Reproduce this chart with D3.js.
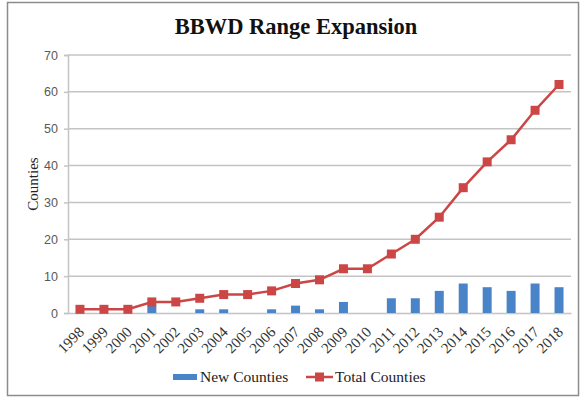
<!DOCTYPE html>
<html>
<head>
<meta charset="utf-8">
<script src="https://cdn.jsdelivr.net/npm/d3@7"></script>
<style>
  html, body { margin: 0; padding: 0; background: #fff; }
  svg { display: block; }
</style>
</head>
<body>
<svg id="chart" width="581" height="398"></svg>
<script>
// Blue-billed whistling duck range expansion by year
const years = ["1998","1999","2000","2001","2002","2003","2004","2005","2006","2007","2008",
               "2009","2010","2011","2012","2013","2014","2015","2016","2017","2018"];
const newCounties   = [0, 0, 0, 2, 0, 1, 1, 0, 1, 2, 1, 3, 0, 4, 4, 6, 8, 7, 6, 8, 7];
const totalCounties = [1, 1, 1, 3, 3, 4, 5, 5, 6, 8, 9, 12, 12, 16, 20, 26, 34, 41, 47, 55, 62];
const yTicks = [0, 10, 20, 30, 40, 50, 60, 70];

const barColor = "#4a84c8";
const lineColor = "#cc4646";
const gridColor = "#c4c4c4";
const serif = "Liberation Serif, Times New Roman, serif";

const svg = d3.select("#chart");
const margin = { left: 68, right: 571, top: 55, bottom: 313 };

// outer frame
svg.append("rect")
  .attr("x", 7.5).attr("y", 2.5).attr("width", 571).attr("height", 393)
  .attr("fill", "#fff").attr("stroke", "#8c8c8c").attr("stroke-width", 1.5);

const x = d3.scaleBand().domain(years).range([margin.left, margin.right]);
const y = d3.scaleLinear().domain([0, 70]).range([margin.bottom, margin.top]);
const cx = d => x(d) + x.bandwidth() / 2;

// horizontal gridlines
svg.append("g").selectAll("line").data(yTicks.filter(d => d > 0)).join("line")
  .attr("x1", margin.left).attr("x2", margin.right)
  .attr("y1", d => y(d)).attr("y2", d => y(d))
  .attr("stroke", gridColor).attr("stroke-width", 1.5);

// y axis
const yAxis = svg.append("g")
  .attr("transform", `translate(${margin.left},0)`)
  .call(d3.axisLeft(y).tickValues(yTicks).tickSize(4).tickPadding(6));
yAxis.select(".domain").attr("stroke", gridColor).attr("stroke-width", 1.5);
yAxis.selectAll(".tick line").attr("stroke", gridColor).attr("stroke-width", 1.5);
yAxis.selectAll(".tick text")
  .attr("font-family", "Liberation Sans, Arial, sans-serif")
  .attr("font-size", 12.5).attr("fill", "#595959");

// x axis (labels rotated 45°, ending just right of each category centre)
const xAxis = svg.append("g")
  .attr("transform", `translate(0,${margin.bottom})`)
  .call(d3.axisBottom(x).tickSize(0));
xAxis.select(".domain").attr("stroke", gridColor).attr("stroke-width", 1.5);
xAxis.selectAll(".tick text")
  .attr("font-family", serif)
  .attr("font-size", 15).attr("fill", "#333")
  .attr("text-anchor", "end")
  .attr("x", null).attr("y", null).attr("dy", null)
  .attr("transform", "translate(5,20) rotate(-45)");

// bars: new counties
const bw = 9;
svg.append("g").selectAll("rect").data(years.map((yr, i) => ({ yr, v: newCounties[i] })))
  .join("rect")
  .attr("x", d => cx(d.yr) - bw / 2)
  .attr("y", d => y(d.v))
  .attr("width", bw)
  .attr("height", d => y(0) - y(d.v))
  .attr("fill", barColor);

// line: total counties
const pts = years.map((yr, i) => ({ yr, v: totalCounties[i] }));
svg.append("path").datum(pts)
  .attr("fill", "none").attr("stroke", lineColor).attr("stroke-width", 2.5)
  .attr("d", d3.line().x(d => cx(d.yr)).y(d => y(d.v)));
const ms = 9;
svg.append("g").selectAll("rect").data(pts).join("rect")
  .attr("x", d => cx(d.yr) - ms / 2)
  .attr("y", d => y(d.v) - ms / 2)
  .attr("width", ms).attr("height", ms)
  .attr("fill", lineColor);

// title
svg.append("text")
  .attr("x", 296).attr("y", 34)
  .attr("text-anchor", "middle")
  .attr("font-family", serif)
  .attr("font-weight", "bold").attr("font-size", 22.5).attr("fill", "#111")
  .text("BBWD Range Expansion");

// y axis title
svg.append("text")
  .attr("transform", "translate(38,184) rotate(-90)")
  .attr("text-anchor", "middle")
  .attr("font-family", serif)
  .attr("font-size", 15).attr("fill", "#222")
  .text("Counties");

// legend
const lg = svg.append("g").attr("font-family", serif)
  .attr("font-size", 15.5).attr("fill", "#222");
lg.append("rect").attr("x", 173).attr("y", 374).attr("width", 24).attr("height", 6).attr("fill", barColor);
lg.append("text").attr("x", 200).attr("y", 382).text("New Counties");
lg.append("line").attr("x1", 306).attr("x2", 333).attr("y1", 377).attr("y2", 377)
  .attr("stroke", lineColor).attr("stroke-width", 2.5);
lg.append("rect").attr("x", 315).attr("y", 372.5).attr("width", 9).attr("height", 9).attr("fill", lineColor);
lg.append("text").attr("x", 335).attr("y", 382).text("Total Counties");
</script>
</body>
</html>
